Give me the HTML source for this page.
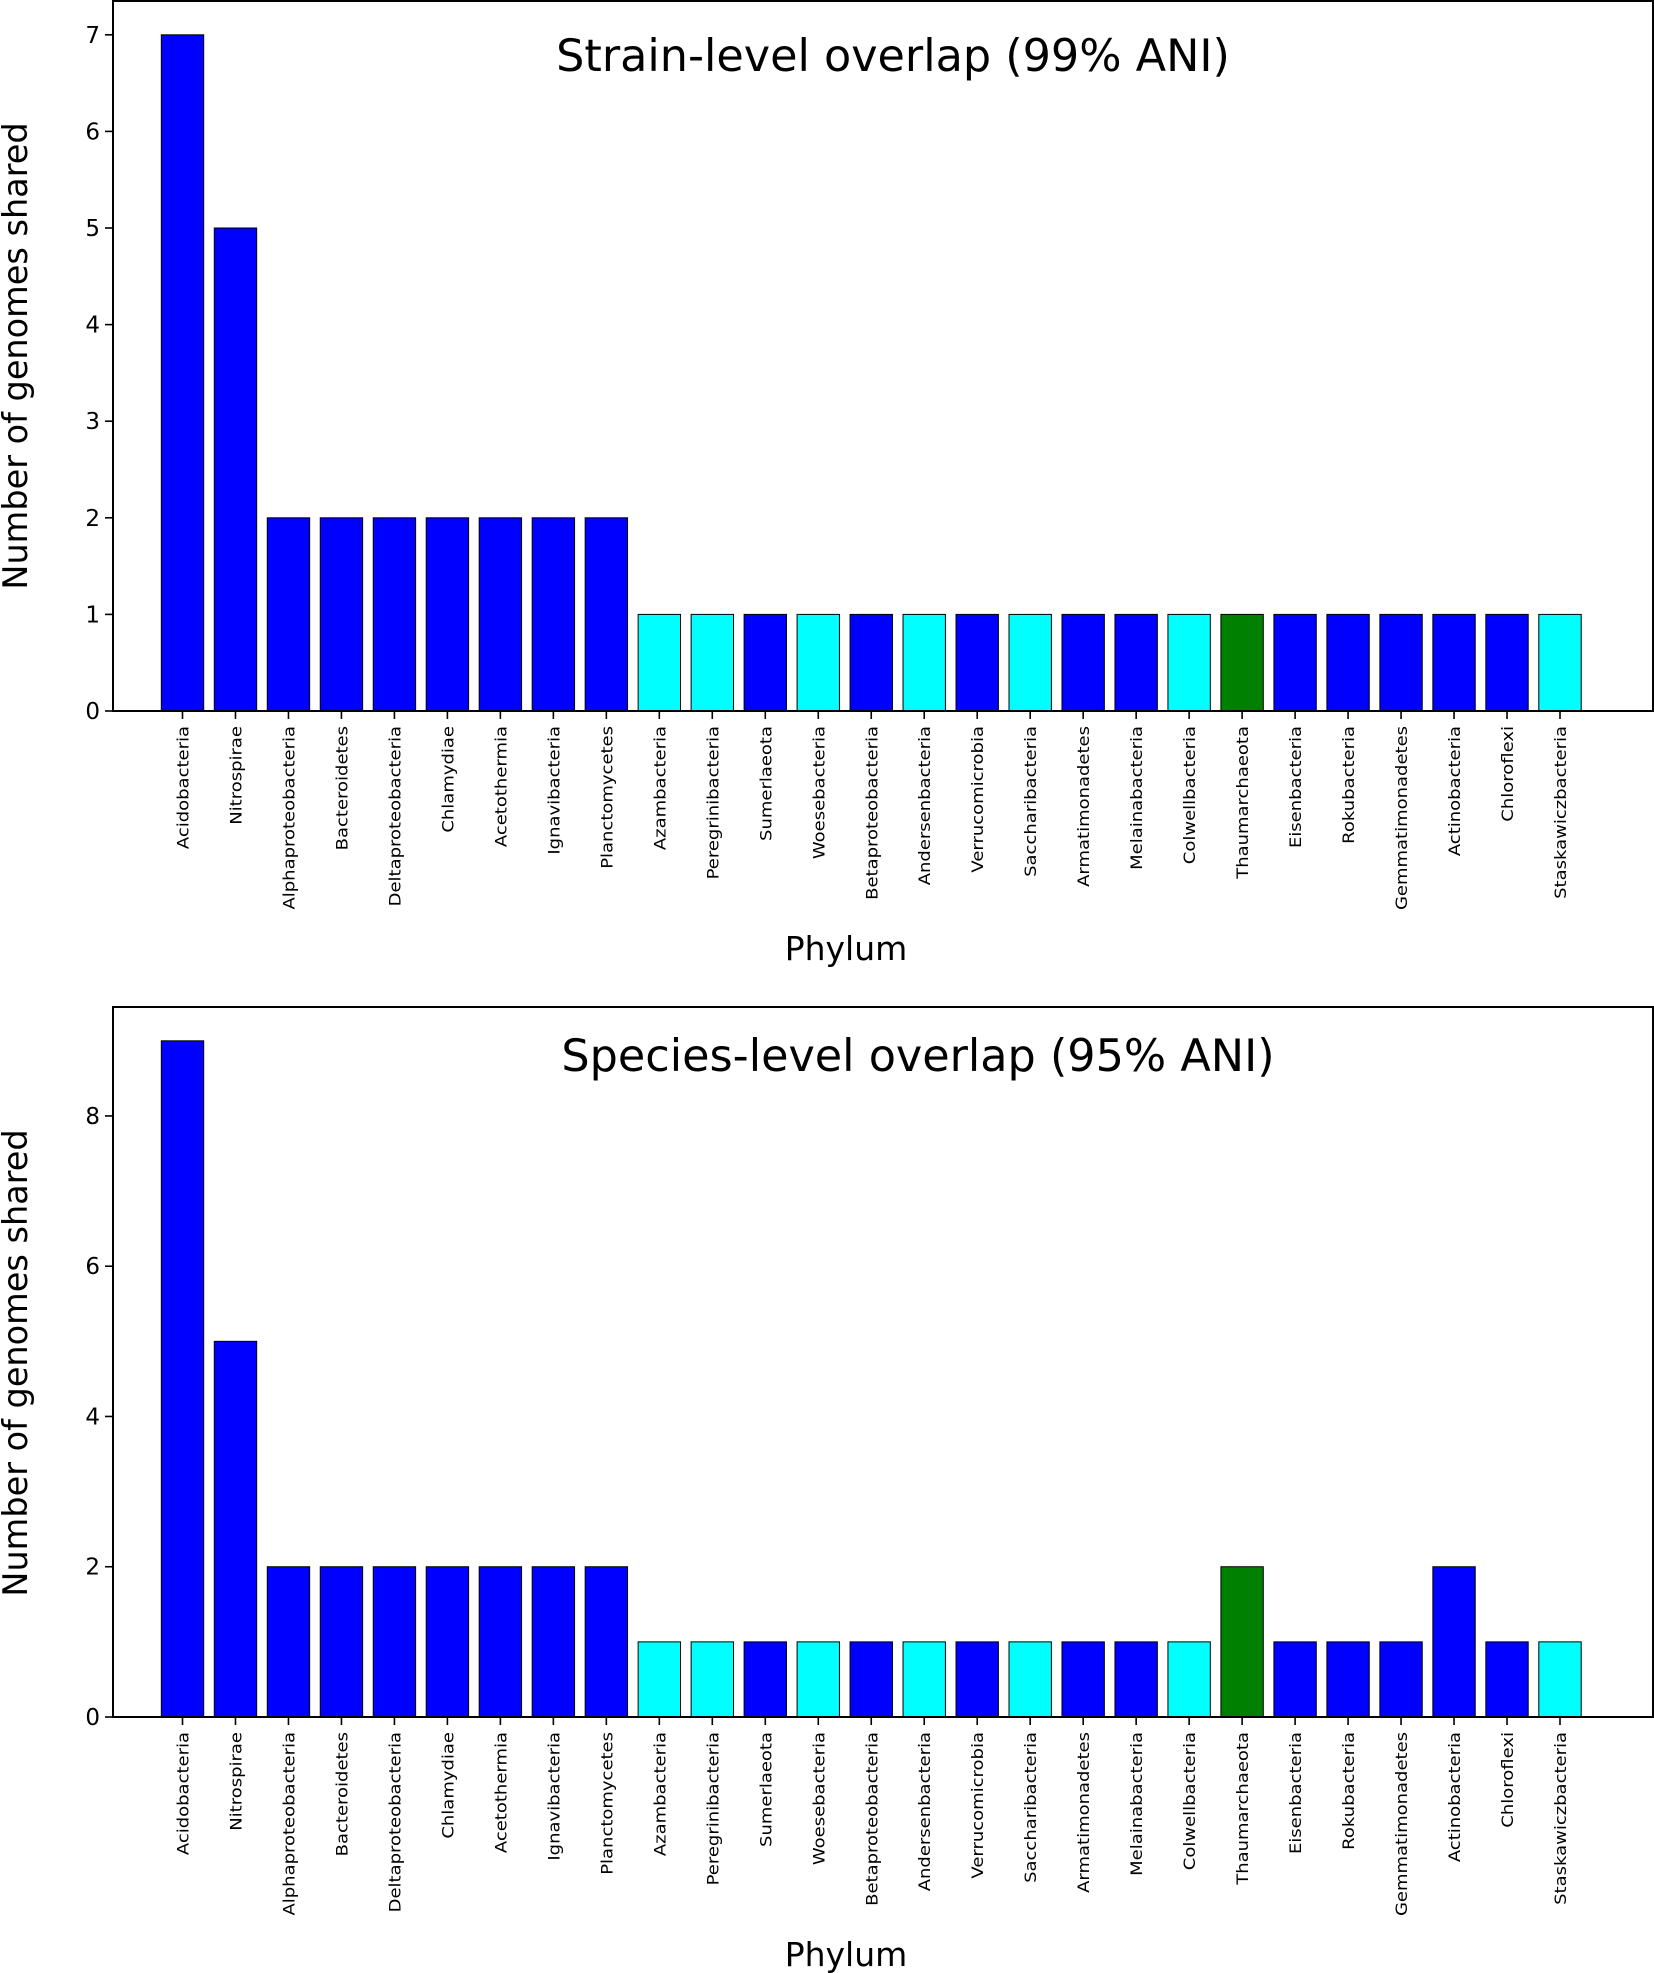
<!DOCTYPE html>
<html><head><meta charset="utf-8"><style>
html,body{margin:0;padding:0;background:#fff;}
svg{display:block;font-family:"DejaVu Sans","Liberation Sans",sans-serif;}
</style></head><body>
<svg id="fig" width="1654" height="1973" viewBox="0 0 1654 1973" xmlns="http://www.w3.org/2000/svg"></svg>
<script>
const categories = ["Acidobacteria","Nitrospirae","Alphaproteobacteria","Bacteroidetes","Deltaproteobacteria","Chlamydiae","Acetothermia","Ignavibacteria","Planctomycetes","Azambacteria","Peregrinibacteria","Sumerlaeota","Woesebacteria","Betaproteobacteria","Andersenbacteria","Verrucomicrobia","Saccharibacteria","Armatimonadetes","Melainabacteria","Colwellbacteria","Thaumarchaeota","Eisenbacteria","Rokubacteria","Gemmatimonadetes","Actinobacteria","Chloroflexi","Staskawiczbacteria"];
const groups = ["b","b","b","b","b","b","b","b","b","c","c","b","c","b","c","b","c","b","b","c","g","b","b","b","b","b","c"];
const strainValues = [7,5,2,2,2,2,2,2,2,1,1,1,1,1,1,1,1,1,1,1,1,1,1,1,1,1,1];
const speciesValues = [9,5,2,2,2,2,2,2,2,1,1,1,1,1,1,1,1,1,1,1,2,1,1,1,2,1,1];
const strainTicks = [0,1,2,3,4,5,6,7];
const speciesTicks = [0,2,4,6,8];
const colorMap = {b:"#0000ff", c:"#00ffff", g:"#008000"};

const NS = "http://www.w3.org/2000/svg";
const svg = document.getElementById('fig');
function mk(tag, attrs, parent){const e=document.createElementNS(NS,tag);for(const k in attrs)e.setAttribute(k,attrs[k]);(parent||svg).appendChild(e);return e;}

function drawPanel(opt){
  const g = mk('g',{});
  
  
  const L=113, R=1653, T=opt.top, B=opt.bottom;
  const x0=182.5, step=(1560-182.5)/26;
  const xs = i => x0 + i*step;
  const ys = v => B - v*(B-T)/opt.ymax;
  const bw = step*0.8;
  opt.values.forEach((v,i)=>{
    const r = mk('rect',{x:xs(i)-bw/2,y:ys(v),width:bw,height:ys(0)-ys(v),fill:colorMap[groups[i]],stroke:"#000","stroke-width":1},g);
    
    
  });
  const frame = mk('rect',{x:L,y:T,width:R-L,height:B-T,fill:"none",stroke:"#000","stroke-width":2},g);
  
  
  opt.ticks.forEach(t=>{
    const y=ys(t);
    mk('line',{x1:L-8,x2:L,y1:y,y2:y,stroke:"#000","stroke-width":1.6},g);
    const tx = mk('text',{x:L-13,y:y+8,"text-anchor":"end","font-size":23,fill:"#000"},g);
    tx.textContent=t;
    
    
  });
  categories.forEach((c,i)=>{
    const x=xs(i);
    mk('line',{x1:x,x2:x,y1:B,y2:B+8,stroke:"#000","stroke-width":1.6},g);
    const tx = mk('text',{x:0,y:0,"text-anchor":"end","font-size":18,fill:"#000",transform:`translate(${x+6},${B+15}) rotate(-90) scale(1,0.9)`},g);
    tx.textContent=c;
    
    
  });
  const title = mk('text',{x:opt.titleX,y:opt.titleY,"text-anchor":"middle","font-size":44.5,fill:"#000"},g);
  title.textContent=opt.title;
  
  
  const yt = mk('text',{x:0,y:0,"text-anchor":"middle","font-size":33.5,fill:"#000",transform:`translate(27,${opt.ytY}) rotate(-90)`},g);
  yt.textContent="Number of genomes shared";
  
  
  const xt = mk('text',{x:846,y:opt.xtY,"text-anchor":"middle","font-size":33,fill:"#000"},g);
  xt.textContent="Phylum";
  
  
}
drawPanel({name:'strain-level-chart',top:1,bottom:711,ymax:7.35,values:strainValues,ticks:strainTicks,title:"Strain-level overlap (99% ANI)",titleX:893,titleY:71,ytY:356,xtY:960});
drawPanel({name:'species-level-chart',top:1007,bottom:1717,ymax:9.45,values:speciesValues,ticks:speciesTicks,title:"Species-level overlap (95% ANI)",titleX:918,titleY:1071,ytY:1363,xtY:1966});
</script>
</body></html>
